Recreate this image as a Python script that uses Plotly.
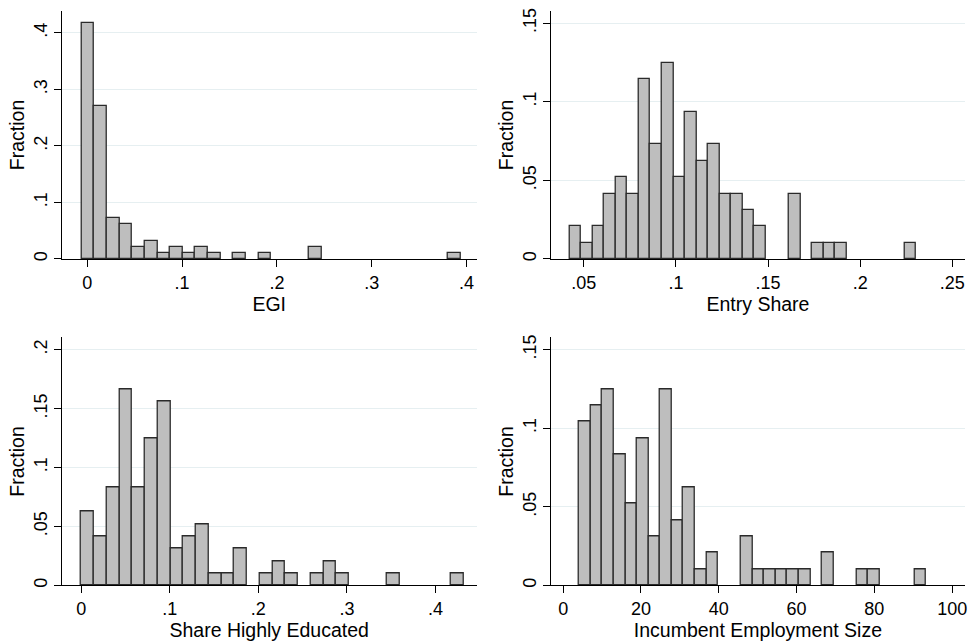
import numpy as np
import plotly.graph_objects as go

# ---------------- data (fractions per histogram bin, 30 bins each) ----------------
egi_start, egi_width = -0.006, 0.01333
egi_frac = [0.4167, 0.2708, 0.0729, 0.0625, 0.0208, 0.0313, 0.0104, 0.0208, 0.0104, 0.0208,
            0.0104, 0.0, 0.0104, 0.0, 0.0104, 0.0, 0.0, 0.0, 0.0208, 0.0,
            0.0, 0.0, 0.0, 0.0, 0.0, 0.0, 0.0, 0.0, 0.0, 0.0104]

entry_start, entry_width = 0.0422, 0.00627
entry_frac = [0.0208, 0.0104, 0.0208, 0.0417, 0.0521, 0.0417, 0.1146, 0.0729, 0.125, 0.0521,
              0.0938, 0.0625, 0.0729, 0.0417, 0.0417, 0.0313, 0.0208, 0.0, 0.0, 0.0417,
              0.0, 0.0104, 0.0104, 0.0104, 0.0, 0.0, 0.0, 0.0, 0.0, 0.0104]

edu_start, edu_width = 0.0, 0.0144
edu_frac = [0.0625, 0.0417, 0.0833, 0.1667, 0.0833, 0.125, 0.1563, 0.0313, 0.0417, 0.0521,
            0.0104, 0.0104, 0.0313, 0.0, 0.0104, 0.0208, 0.0104, 0.0, 0.0104, 0.0208,
            0.0104, 0.0, 0.0, 0.0, 0.0104, 0.0, 0.0, 0.0, 0.0, 0.0104]

emp_start, emp_width = 4.10, 2.974
emp_frac = [0.1042, 0.1146, 0.125, 0.0833, 0.0521, 0.0938, 0.0313, 0.125, 0.0417, 0.0625,
            0.0104, 0.0208, 0.0, 0.0, 0.0313, 0.0104, 0.0104, 0.0104, 0.0104, 0.0104,
            0.0, 0.0208, 0.0, 0.0, 0.0104, 0.0104, 0.0, 0.0, 0.0, 0.0104]

x_titles = ["EGI", "Entry Share", "Share Highly Educated", "Incumbent Employment Size"]
y_title = "Fraction"

x_tickvals = [[0, 0.1, 0.2, 0.3, 0.4], [0.05, 0.1, 0.15, 0.2, 0.25],
              [0, 0.1, 0.2, 0.3, 0.4], [0, 20, 40, 60, 80, 100]]
x_ticktext = [["0", ".1", ".2", ".3", ".4"], [".05", ".1", ".15", ".2", ".25"],
              ["0", ".1", ".2", ".3", ".4"], ["0", "20", "40", "60", "80", "100"]]
y_tickvals = [[0, 0.1, 0.2, 0.3, 0.4], [0, 0.05, 0.1, 0.15],
              [0, 0.05, 0.1, 0.15, 0.2], [0, 0.05, 0.1, 0.15]]
y_ticktext = [["0", ".1", ".2", ".3", ".4"], ["0", ".05", ".1", ".15"],
              ["0", ".05", ".1", ".15", ".2"], ["0", ".05", ".1", ".15"]]

# ---------------- layout geometry ----------------
W, H = 974, 643
panels_px = [  # (x0, x1, ytop, ybottom) in pixels
    (62, 477.5, 8, 258),
    (552, 967, 8, 258),
    (62, 477.5, 337, 587),
    (552, 967, 337, 587),
]
x_ranges = [[-0.0268, 0.4105], [0.0321, 0.2569], [-0.0218, 0.4463], [-3.16, 103.3]]
y_ranges = [[0, 0.4387], [0, 0.1578], [0, 0.2104], [0, 0.1578]]

series = [(egi_start, egi_width, egi_frac), (entry_start, entry_width, entry_frac),
          (edu_start, edu_width, edu_frac), (emp_start, emp_width, emp_frac)]

FONT = "Liberation Sans, Arial, sans-serif"
fig = go.Figure()
layout = dict(width=W, height=H, margin=dict(l=0, r=0, t=0, b=0),
              paper_bgcolor="white", plot_bgcolor="white", showlegend=False,
              font=dict(family=FONT, color="black"), bargap=0)

for i, (start, width, frac) in enumerate(series):
    n = len(frac)
    centers = start + width * (np.arange(n) + 0.5)
    fr = np.array(frac)
    keep = fr > 0
    xa = "x" if i == 0 else f"x{i+1}"
    ya = "y" if i == 0 else f"y{i+1}"
    fig.add_trace(go.Bar(x=centers[keep], y=fr[keep], width=width, xaxis=xa, yaxis=ya,
                         marker=dict(color="#BEBEBE", line=dict(color="#2a2a2a", width=1.3)),
                         hoverinfo="skip"))
    x0, x1, yt, yb = panels_px[i]
    xkey = "xaxis" if i == 0 else f"xaxis{i+1}"
    ykey = "yaxis" if i == 0 else f"yaxis{i+1}"
    layout[xkey] = dict(domain=[x0 / W, x1 / W], range=x_ranges[i], anchor=ya,
                        showline=True, linecolor="black", linewidth=1,
                        ticks="outside", ticklen=7, tickcolor="black", tickwidth=1,
                        tickvals=x_tickvals[i], ticktext=x_ticktext[i],
                        tickfont=dict(size=18, family=FONT, color="black"),
                        showgrid=False, zeroline=False,
                        title=dict(text=x_titles[i], font=dict(size=19.5, family=FONT, color="black"),
                                   standoff=0))
    layout[ykey] = dict(domain=[1 - yb / H, 1 - yt / H], range=y_ranges[i], anchor=xa,
                        showline=True, linecolor="black", linewidth=1,
                        ticks="outside", ticklen=7, tickcolor="black", tickwidth=1,
                        tickvals=y_tickvals[i], ticktext=y_ticktext[i], tickangle=-90,
                        tickfont=dict(size=18, family=FONT, color="black"),
                        showgrid=True, gridcolor="#E6EFF1", gridwidth=1, zeroline=False,
                        title=dict(text=y_title, font=dict(size=19.5, family=FONT, color="black"),
                                   standoff=0))

fig.update_layout(**layout)
fig.write_html("out.html", config={"displayModeBar": False},
               post_script="document.body.style.margin='0';document.body.style.padding='0';")
